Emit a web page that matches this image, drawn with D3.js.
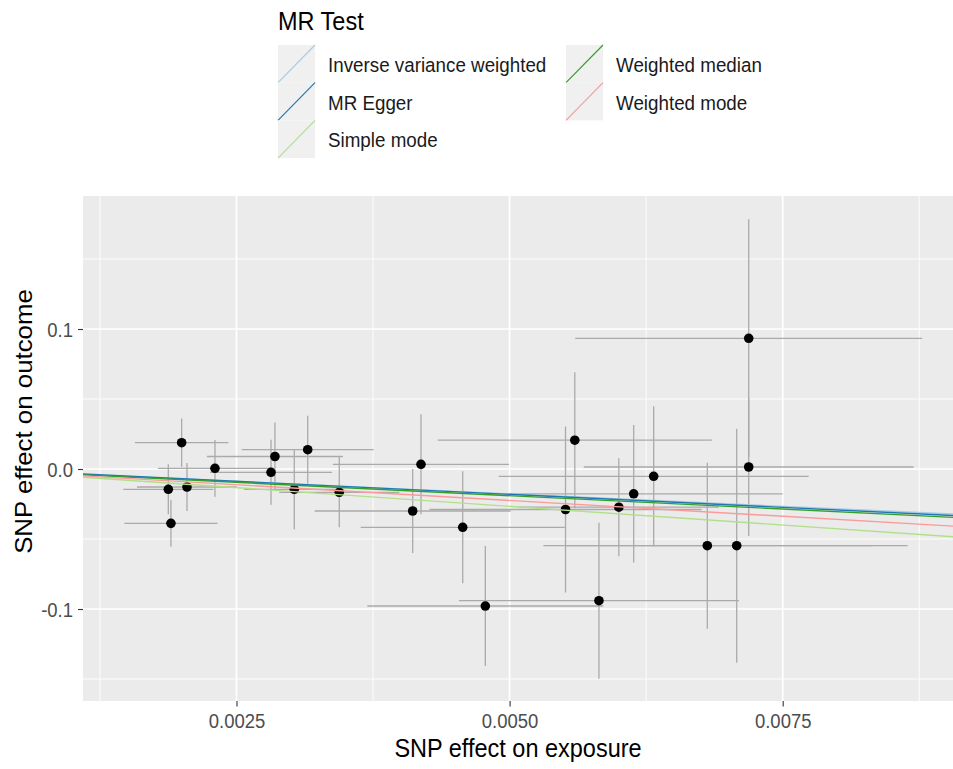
<!DOCTYPE html>
<html>
<head>
<meta charset="utf-8">
<script src="https://cdn.jsdelivr.net/npm/d3@7"></script>
<style>
	body{margin:0;background:#fff;}
	text{font-family:"Liberation Sans",Arial,sans-serif;}
</style>
</head>
<body>
<script>
// MR methods and fitted lines
var methods = ["Inverse variance weighted","MR Egger","Simple mode","Weighted median","Weighted mode"];
var slopes = [-3.55,-3.72,-5.34,-3.81,-4.5];
var intercepts = [0,0.0005,0,0,0];

// SNP effects
var snpX = [0.001998,0.002303,0.002852,0.002816,0.001876,0.002047,0.0019,0.003029,0.003152,0.003441,0.004113,0.004189,
	0.004571,0.004778,0.005512,0.005597,0.005818,0.0060,0.006136,0.006319,0.00681,0.007079,0.007189,0.007189];
var snpY = [0.01879,0.0005,0.00893,-0.00236,-0.0145,-0.01286,-0.0388,-0.0145,0.01379,-0.01664,-0.03,0.00336,
	-0.04164,-0.09786,-0.02893,0.02057,-0.09407,-0.02729,-0.01771,-0.00521,-0.05479,-0.05479,0.09336,0.00143];
var seX = [0.000428,0.000522,0.000622,0.000558,0.000412,0.000458,0.000426,0.000458,0.000604,0.000549,0.000897,0.000806,
	0.000934,0.00108,0.001245,0.001254,0.001282,0.000915,0.001364,0.001419,0.001501,0.001565,0.001588,0.00151];
var seY = [0.01729,0.0203,0.0243,0.0232,0.0179,0.0171,0.0167,0.0286,0.0243,0.025,0.03,0.0357,
	0.04,0.0429,0.0593,0.0486,0.0557,0.035,0.0491,0.05,0.0593,0.0836,0.085,0.0493];

var xTicks = [0.0025,0.005,0.0075],
	xTickLabels = ["0.0025","0.0050","0.0075"],
	xMinor = [0.00125,0.00375,0.00625,0.00875];
var yTicks = [-0.1,0,0.1],
	yTickLabels = ["-0.1","0.0","0.1"],
	yMinor = [-0.15,-0.05,0.05,0.15];

var colors = ["#a6cee3","#1f78b4","#b2df8a","#33a02c","#fb9a99"];

var width = 953,
	height = 769,
	stretch = 1.1,
	pL = 83, pR = 953, pT = 196, pB = 701;

var svg = d3.select("body").append("svg")
	.attr("width",width)
	.attr("height",height);

var x = d3.scaleLinear().domain([0.001095,0.009059]).range([pL,pR]);
var y = d3.scaleLinear().domain([-0.1657,0.195]).range([pB,pT]);

svg.append("defs").append("clipPath").attr("id","panel")
	.append("rect")
	.attr("x",pL).attr("y",pT)
	.attr("width",pR-pL).attr("height",pB-pT);

svg.append("rect")
	.attr("x",pL).attr("y",pT)
	.attr("width",pR-pL).attr("height",pB-pT)
	.style("fill","#ebebeb");

// grid
var grid = svg.append("g");
grid.selectAll(".vmin").data(xMinor).enter().append("line")
	.attr("x1",function(d){ return x(d); }).attr("x2",function(d){ return x(d); })
	.attr("y1",pT).attr("y2",pB)
	.style("stroke","#fff").style("stroke-width",0.9);
grid.selectAll(".hmin").data(yMinor).enter().append("line")
	.attr("y1",function(d){ return y(d); }).attr("y2",function(d){ return y(d); })
	.attr("x1",pL).attr("x2",pR)
	.style("stroke","#fff").style("stroke-width",0.9);
grid.selectAll(".vmaj").data(xTicks).enter().append("line")
	.attr("x1",function(d){ return x(d); }).attr("x2",function(d){ return x(d); })
	.attr("y1",pT).attr("y2",pB)
	.style("stroke","#fff").style("stroke-width",1.7);
grid.selectAll(".hmaj").data(yTicks).enter().append("line")
	.attr("y1",function(d){ return y(d); }).attr("y2",function(d){ return y(d); })
	.attr("x1",pL).attr("x2",pR)
	.style("stroke","#fff").style("stroke-width",1.7);

var plot = svg.append("g").attr("clip-path","url(#panel)");
var idx = d3.range(snpX.length);

plot.selectAll(".ev").data(idx).enter().append("line")
	.attr("x1",function(i){ return x(snpX[i]); })
	.attr("x2",function(i){ return x(snpX[i]); })
	.attr("y1",function(i){ return y(snpY[i]-seY[i]); })
	.attr("y2",function(i){ return y(snpY[i]+seY[i]); })
	.style("stroke","#aaa").style("stroke-width",1.3);

plot.selectAll(".eh").data(idx).enter().append("line")
	.attr("x1",function(i){ return x(snpX[i]-seX[i]); })
	.attr("x2",function(i){ return x(snpX[i]+seX[i]); })
	.attr("y1",function(i){ return y(snpY[i]); })
	.attr("y2",function(i){ return y(snpY[i]); })
	.style("stroke","#aaa").style("stroke-width",1.3);

plot.selectAll(".pt").data(idx).enter().append("circle")
	.attr("cx",function(i){ return x(snpX[i]); })
	.attr("cy",function(i){ return y(snpY[i]); })
	.attr("r",4.8)
	.style("fill","#000");

// fitted lines go over the points, as in the original
plot.selectAll(".fit").data(d3.range(methods.length)).enter().append("line")
	.attr("x1",x(x.domain()[0]))
	.attr("x2",x(x.domain()[1]))
	.attr("y1",function(i){ return y(intercepts[i]+slopes[i]*x.domain()[0]); })
	.attr("y2",function(i){ return y(intercepts[i]+slopes[i]*x.domain()[1]); })
	.style("stroke",function(i){ return colors[i]; })
	.style("stroke-width",1.4);

// axes
var xAxis = svg.append("g")
	.attr("transform","translate(0,"+pB+")")
	.call(d3.axisBottom(x).tickValues(xTicks).tickSize(5.5).tickFormat(function(d,i){ return xTickLabels[i]; }));
var yAxis = svg.append("g")
	.attr("transform","translate("+pL+",0)")
	.call(d3.axisLeft(y).tickValues(yTicks).tickSize(5).tickFormat(function(d,i){ return yTickLabels[i]; }));

[xAxis,yAxis].forEach(function(a){
	a.select(".domain").remove();
	a.selectAll(".tick line").style("stroke","#333").style("stroke-width",1.1);
	a.selectAll(".tick text")
		.style("font-size","18.5px")
		.style("fill","#4d4d4d")
		.style("font-family","Liberation Sans, Arial, sans-serif");
});
xAxis.selectAll(".tick text")
	.attr("y",0).attr("dy",null)
	.attr("transform","translate(0,26.5) scale(1,"+stretch+")");
yAxis.selectAll(".tick text")
	.attr("x",0).attr("dy",null)
	.attr("transform","translate(-10,7.3) scale(1,"+stretch+")");

svg.append("text")
	.attr("transform","translate("+((pL+pR)/2)+",757) scale(1,"+stretch+")")
	.attr("text-anchor","middle")
	.style("font-size","23.5px")
	.text("SNP effect on exposure");

svg.append("text")
	.attr("transform","translate(32,421.5) scale(1,"+stretch+") rotate(-90)")
	.attr("text-anchor","middle")
	.style("font-size","23.5px")
	.text("SNP effect on outcome");

// legend
var legend = svg.append("g");
legend.append("text")
	.attr("transform","translate(278,30) scale(1,"+stretch+")")
	.style("font-size","23.5px")
	.text("MR Test");

var keyW = 37, keyH = 37.7;
var keys = legend.selectAll(".key").data(d3.range(methods.length)).enter().append("g")
	.attr("transform",function(i){
		var col = i < 3 ? 0 : 1, row = i < 3 ? i : i-3;
		return "translate("+(col ? 566 : 278)+","+(45+row*keyH)+")";
	});
keys.append("rect")
	.attr("width",keyW).attr("height",keyH)
	.style("fill","#f0f0f0");
keys.append("line")
	.attr("x1",0).attr("y1",keyH)
	.attr("x2",keyW).attr("y2",0)
	.style("stroke",function(i){ return colors[i]; })
	.style("stroke-width",1.2);
keys.append("text")
	.attr("transform","translate("+(keyW+13)+","+(keyH/2+8.2)+") scale(1,"+stretch+")")
	.style("font-size","18.8px")
	.style("fill","#1a1a1a")
	.text(function(i){ return methods[i]; });
</script>
</body>
</html>
